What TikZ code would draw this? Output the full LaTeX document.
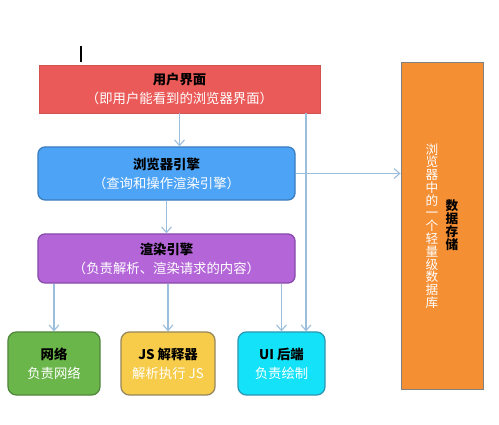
\documentclass[tikz,border=0pt]{standalone}
\usepackage{fontspec}
\setmainfont{Noto Sans CJK SC}
\usetikzlibrary{arrows.meta,positioning}
\definecolor{uired}{RGB}{234,90,88}
\definecolor{engblue}{RGB}{77,163,245}
\definecolor{engblueb}{RGB}{60,125,190}
\definecolor{renpurple}{RGB}{180,102,217}
\definecolor{renpurpleb}{RGB}{135,75,170}
\definecolor{netgreen}{RGB}{106,182,74}
\definecolor{netgreenb}{RGB}{80,135,60}
\definecolor{jsyellow}{RGB}{247,204,74}
\definecolor{jsyellowb}{RGB}{150,135,95}
\definecolor{uicyan}{RGB}{20,226,248}
\definecolor{uicyanb}{RGB}{45,150,180}
\definecolor{storeorange}{RGB}{245,143,52}
\definecolor{linkblue}{RGB}{155,190,220}

\begin{document}
\begin{tikzpicture}[x=0.025cm, y=-0.025cm,
  layer/.style={
    rectangle, rounded corners=5pt, line width=0.9pt,
    align=center, font=\fontsize{9.5}{13.5}\selectfont
  },
  part/.style={
    layer, rounded corners=6pt,
    minimum width=2.25cm, minimum height=1.575cm
  },
  vtext/.style={align=center, inner sep=0pt, font=\fontsize{9}{9.1}\selectfont},
  link/.style={-{Straight Barb[length=4pt,width=7pt]}, linkblue, line width=0.8pt}
]
  \useasboundingbox (0,0) rectangle (499,425);

  % cursor mark
  \draw[line width=1.4pt] (81,46) -- (81,62);

  % layers
  \node[layer, rounded corners=0pt, fill=uired, draw=uired!90!black, line width=0.5pt,
        minimum width=7.025cm, minimum height=1.2cm] (ui) at (179.5,89)
       {\textbf{用户界面}\\\color{white}（即用户能看到的浏览器界面）};
  \node[layer, fill=engblue, draw=engblueb,
        minimum width=6.425cm, minimum height=1.325cm] (browser) at (166.5,173.5)
       {\textbf{浏览器引擎}\\\color{white}（查询和操作渲染引擎）};
  \node[layer, fill=renpurple, draw=renpurpleb,
        minimum width=6.425cm, minimum height=1.225cm] (render) at (166.5,258.5)
       {\textbf{渲染引擎}\\\color{white}（负责解析、渲染请求的内容）};

  % parts of the rendering engine
  \node[part, fill=netgreen, draw=netgreenb, minimum width=2.3cm] (net) at (54,363.5)
       {\textbf{网络}\\\color{white}负责网络};
  \node[part, fill=jsyellow, draw=jsyellowb, minimum width=2.35cm] (js) at (168,363.5)
       {\textbf{JS 解释器}\\\color{white}解析执行 JS};
  \node[part, fill=uicyan, draw=uicyanb, minimum width=2.175cm] (back) at (281.5,363.5)
       {\textbf{UI 后端}\\\color{white}负责绘制};

  % data storage
  \node[rectangle, fill=storeorange, draw=gray, line width=0.6pt,
        minimum width=2.05cm, minimum height=8.175cm] (store) at (442,225.5) {};
  \node[vtext, text=white] (storedesc) at (432,226)
       {浏\\览\\器\\中\\的\\一\\个\\轻\\量\\级\\数\\据\\库};
  \node[vtext, font=\fontsize{9}{9.1}\selectfont\bfseries] (storetitle) at (452,225)
       {数\\据\\存\\储};

  % connectors
  \coordinate (uitap) at (306,113);
  \draw[link] (ui.south) -- (ui.south |- browser.north);
  \draw[link] (browser) -- (render);
  \draw[link] (browser.east) -- (browser.east -| store.west);
  \draw[link] (uitap) -- (uitap |- back.north);
  \draw[link] (render.south -| net.north) -- (net.north);
  \draw[link] (render.south -| js.north) -- (js.north);
  \draw[link] (render.south -| back.north) -- (back.north);
\end{tikzpicture}
\end{document}
